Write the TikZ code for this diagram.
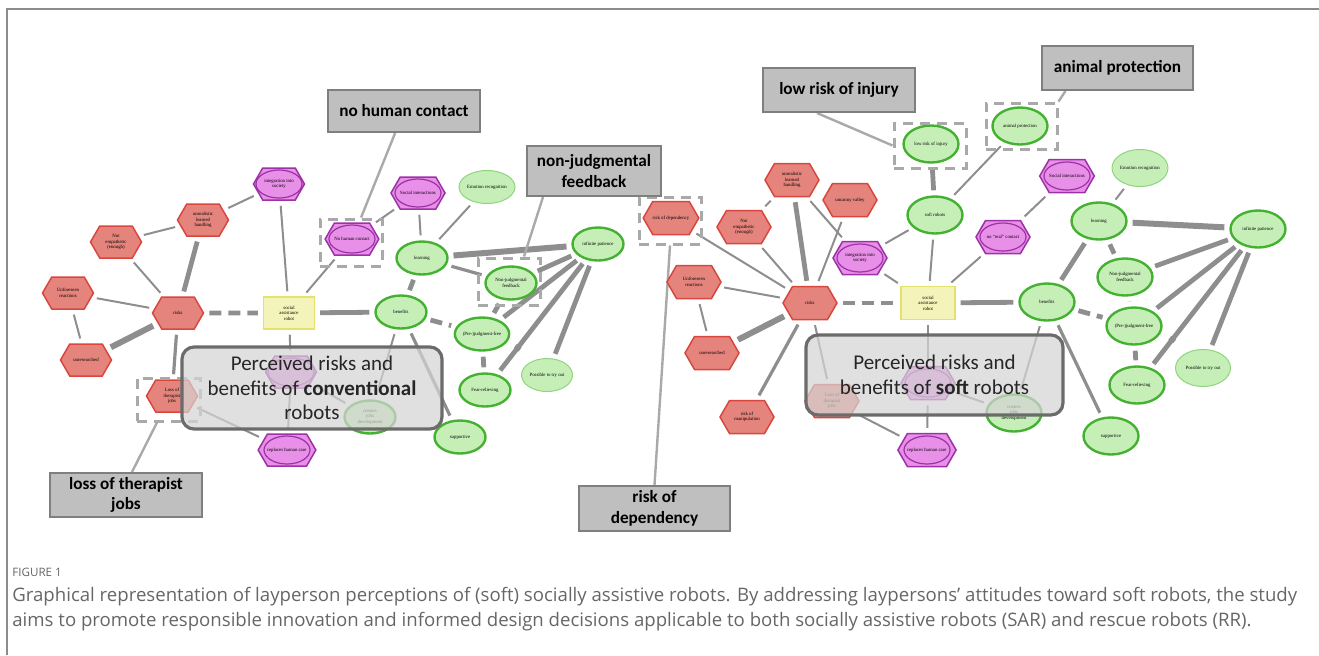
\documentclass[tikz,border=0pt]{standalone}
\usepackage{fontspec}
\setmainfont{Liberation Serif}
\newfontfamily\calloutfamily{Carlito}
\newfontfamily\captionfamily{Open Sans}
\usetikzlibrary{shapes.geometric,shapes.symbols,decorations.markings}
\definecolor{riskfill}{HTML}{E4847C}
\definecolor{riskline}{HTML}{D9463E}
\definecolor{purpfill}{HTML}{E88FE8}
\definecolor{purpline}{HTML}{9C32A6}
\definecolor{benfill}{HTML}{C6EFB8}
\definecolor{benline}{HTML}{45B132}
\definecolor{benlight}{HTML}{8FD47F}
\definecolor{sarfill}{HTML}{F4F3B9}
\definecolor{sarline}{HTML}{E3E36B}
\definecolor{linkgray}{HTML}{8E8E8E}
\definecolor{hlgray}{HTML}{A9A9A9}
\definecolor{notefill}{HTML}{BFBFBF}
\definecolor{noteline}{HTML}{7F7F7F}
\definecolor{boxfill}{HTML}{D4D4D4}
\definecolor{boxline}{HTML}{6B6B6B}
\definecolor{capgray}{HTML}{666666}
\definecolor{framegray}{HTML}{8C8C8C}
\newcommand{\nodefont}{\fontsize{2.4}{2.8}\selectfont}
\newcommand{\notefont}{\calloutfamily\bfseries\fontsize{8.6}{10.3}\selectfont}
\newcommand{\boxfont}{\calloutfamily\fontsize{10.5}{12.3}\selectfont}
\newcommand{\figlabelfont}{\captionfamily\fontsize{5.8}{7}\selectfont}
\newcommand{\captextfont}{\captionfamily\fontsize{9.3}{11}\selectfont}
\pgfdeclarelayer{background}
\pgfsetlayers{background,main}
\tikzset{
    nsize/.style={minimum width=25.5pt, minimum height=16pt},
    esize/.style={minimum width=25.5pt, minimum height=16.5pt},
    riskhex/.style={signal, signal to=east and west, signal pointer angle=120, nsize, inner sep=0pt,
        draw=riskline, fill=riskfill, line width=0.75pt, align=center, font=\nodefont},
    purphex/.style={riskhex, draw=purpline, fill=purpfill,
        path picture={\draw[purpline, line width=0.6pt] (path picture bounding box.center) ellipse [x radius=11.5pt, y radius=7pt];}},
    benell/.style={ellipse, esize, inner sep=0pt, draw=benline, fill=benfill, line width=1.2pt, align=center, font=\nodefont},
    benthin/.style={benell, draw=benlight, line width=0.5pt},
    sarbox/.style={rectangle, nsize, inner sep=0pt, draw=sarline, fill=sarfill, line width=0.7pt, align=center, font=\nodefont},
    link/.style={draw=linkgray, line width=1pt, shorten <=2.5pt, shorten >=2.5pt},
    linkm/.style={link, line width=1.6pt},
    linkt/.style={link, line width=2.4pt},
    linkx/.style={link, line width=3pt},
    linkd/.style={linkt, dash pattern=on 6pt off 3.5pt},
    blocked/.style={postaction={decorate}, decoration={markings, mark=at position 0.77 with {\draw[linkgray, line width=2.4pt] (0,-4pt) -- (0,4pt);}}},
    callout/.style={draw=noteline, fill=notefill, line width=1pt, font=\notefont, align=center, inner sep=0pt},
    hlbox/.style={draw=hlgray, line width=1.5pt, dash pattern=on 5pt off 3.5pt, inner sep=0pt},
    pointer/.style={draw=hlgray, line width=1.2pt},
    bigbox/.style={draw=boxline, fill=boxfill, fill opacity=0.72, text opacity=1, text=black!85, line width=1.6pt,
        rounded corners=6pt, align=center, font=\boxfont, inner sep=0pt}
}
\begin{document}
\begin{tikzpicture}[x=0.5pt, y=-0.5pt]
    \useasboundingbox (0,0) rectangle (1319,655);
    \draw[framegray, line width=1pt] (7,655) -- (7,9) -- (1319,9);

    \node[riskhex] (lrisks) at (178,313) {risks};
    \node[riskhex] (lnotemp) at (116,242) {Not\\empathetic\\(enough)};
    \node[riskhex] (lunreal) at (203,220) {unrealistic\\learned\\handling};
    \node[purphex] (lintegr) at (279,184) {integration into\\society};
    \node[riskhex] (lunfore) at (68,293) {Unforeseen\\reactions};
    \node[riskhex] (lunres) at (86,360) {unresearched};
    \node[riskhex] (lloss) at (172,396) {Loss of\\therapist\\jobs};
    \node[sarbox] (lsar) at (289,313) {social\\assistance\\robot};
    \node[purphex] (lnhc) at (352,239) {No human contact};
    \node[purphex] (lsocial) at (418,193) {Social interactions};
    \node[benthin] (lemorec) at (487,187) {Emotion recognition};
    \node[benell] (llearn) at (422,258) {learning};
    \node[benell] (lpatience) at (598,244) {infinite patience};
    \node[benell] (lnjf) at (511,283) {Non-judgmental\\feedback};
    \node[benell] (lbenef) at (401,312) {benefits};
    \node[benell] (lprejf) at (482,334) {(Pre-)judgment-free};
    \node[benell] (lfear) at (485,390) {Fear-relieving};
    \node[benthin] (ltryout) at (547,375) {Possible to try out};
    \node[benell] (lsupport) at (460,437) {supportive};
    \node[benell] (ljobs) at (370,417) {creates\\jobs\\development};
    \node[purphex] (lrepl) at (287,450) {replaces human care};
    \node[purphex] (lhidden) at (291,372) {};

    \begin{scope}[nsize/.style={minimum width=27pt, minimum height=16.5pt},
        esize/.style={minimum width=27.5pt, minimum height=18.5pt}]
    \node[riskhex] (rdep) at (671,218) {risk of dependency};
    \node[riskhex] (rnotemp) at (744,227) {Not\\empathetic\\(enough)};
    \node[riskhex] (runreal) at (792,180) {unrealistic\\learned\\handling};
    \node[riskhex] (runcanny) at (850,200) {uncanny valley};
    \node[purphex] (rintegr) at (860,258) {integration into\\society};
    \node[riskhex] (runfore) at (694,282) {Unforeseen\\reactions};
    \node[riskhex] (rrisks) at (810,303) {risks};
    \node[riskhex] (runres) at (712,353) {unresearched};
    \node[riskhex] (rmanip) at (747,417) {risk of\\manipulation};
    \node[riskhex] (rloss) at (832,401) {Loss of\\therapist\\jobs};
    \node[sarbox] (rsar) at (928,303) {social\\assistance\\robot};
    \node[benell] (rsoft) at (935,215) {soft robots};
    \node[benell] (rlowrisk) at (931,144) {low risk of injury};
    \node[benell] (ranimal) at (1020,126) {animal protection};
    \node[purphex] (rnoreal) at (1003,237) {no “real” contact};
    \node[purphex] (rsocial) at (1067,176) {Social interactions};
    \node[benthin] (remorec) at (1140,168) {Emotion recognition};
    \node[benell] (rlearn) at (1099,221) {learning};
    \node[benell] (rpatience) at (1258,229) {infinite patience};
    \node[benell] (rnjf) at (1125,277) {Non-judgmental\\feedback};
    \node[benell] (rbenef) at (1047,302) {benefits};
    \node[benell] (rprejf) at (1134,326) {(Pre-)judgment-free};
    \node[benell] (rfear) at (1137,385) {Fear-relieving};
    \node[benthin] (rtryout) at (1203,368) {Possible to try out};
    \node[benell] (rsupport) at (1111,436) {supportive};
    \node[benell] (rjobs) at (1014,413) {creates\\jobs\\development};
    \node[purphex] (rrepl) at (927,450) {replaces human care};
    \node[purphex] (rhidden) at (928,383) {};
    \end{scope}

    \begin{pgfonlayer}{background}
    \draw[link] (lrisks) -- (lnotemp);
    \draw[link] (lnotemp) -- (lunreal);
    \draw[linkt] (lrisks) -- (lunreal);
    \draw[link] (lunreal) -- (lintegr);
    \draw[link] (lrisks) -- (lunfore);
    \draw[link] (lunfore) -- (lunres);
    \draw[linkx] (lrisks) -- (lunres);
    \draw[linkm] (lrisks) -- (lloss);
    \draw[linkd] (lrisks) -- (lsar);
    \draw[link] (lsar) -- (lintegr);
    \draw[link] (lsar) -- (lnhc);
    \draw[linkt] (lsar) -- (lbenef);
    \draw[link] (lsar) -- (lhidden);
    \draw[link] (lhidden) -- (lrepl);
    \draw[link] (lhidden) -- (ljobs);
    \draw[link] (lloss) -- (lrepl);
    \draw[link] (lnhc) -- (lsocial);
    \draw[link] (lsocial) -- (llearn);
    \draw[link] (lemorec) -- (llearn);
    \draw[linkd] (llearn) -- (lbenef);
    \draw[linkx] (llearn) -- (lpatience);
    \draw[linkm] (llearn) -- (lnjf);
    \draw[linkt] (lnjf) -- (lpatience);
    \draw[linkd] (lnjf) -- (lprejf);
    \draw[linkt] (lprejf) -- (lpatience);
    \draw[linkt, blocked] (lpatience) -- (lfear);
    \draw[linkt] (lpatience) -- (ltryout);
    \draw[linkd] (lbenef) -- (lprejf);
    \draw[linkd] (lprejf) -- (lfear);
    \draw[linkm] (lbenef) -- (lsupport);
    \draw[link] (lbenef) -- (ljobs);

    \draw[link] (rdep) -- (rrisks);
    \draw[link] (rnotemp) -- (rrisks);
    \draw[link] (rnotemp) -- (runreal);
    \draw[linkt] (runreal) -- (rrisks);
    \draw[link] (runreal) -- (rintegr);
    \draw[link] (runcanny) -- (rrisks);
    \draw[link] (runfore) -- (rrisks);
    \draw[link] (runfore) -- (runres);
    \draw[linkx] (runres) -- (rrisks);
    \draw[linkm] (rmanip) -- (rrisks);
    \draw[link] (rrisks) -- (rloss);
    \draw[linkd] (rrisks) -- (rsar);
    \draw[link] (rintegr) -- (rsoft);
    \draw[link] (rintegr) -- (rsar);
    \draw[link] (rsoft) -- (rsar);
    \draw[linkt] (rsoft) -- (rlowrisk);
    \draw[link] (rsoft) -- (ranimal);
    \draw[link] (rnoreal) -- (rsar);
    \draw[link] (rnoreal) -- (rsocial);
    \draw[linkt] (rsar) -- (rbenef);
    \draw[link] (rsar) -- (rhidden);
    \draw[link] (rhidden) -- (rrepl);
    \draw[link] (rhidden) -- (rjobs);
    \draw[link] (rloss) -- (rrepl);
    \draw[linkt] (rbenef) -- (rlearn);
    \draw[link] (rlearn) -- (remorec);
    \draw[linkd] (rlearn) -- (rnjf);
    \draw[linkx] (rlearn) -- (rpatience);
    \draw[linkt] (rnjf) -- (rpatience);
    \draw[linkd] (rnjf) -- (rprejf);
    \draw[linkt] (rprejf) -- (rpatience);
    \draw[linkt, blocked] (rpatience) -- (rfear);
    \draw[linkt] (rpatience) -- (rtryout);
    \draw[linkd] (rbenef) -- (rprejf);
    \draw[linkd] (rprejf) -- (rfear);
    \draw[linkm] (rbenef) -- (rsupport);
    \draw[link] (rbenef) -- (rjobs);
    \end{pgfonlayer}

    \node[hlbox, minimum width=31pt, minimum height=23.5pt] (lnhcbox) at (351,242.5) {};
    \node[hlbox, minimum width=31pt, minimum height=23.5pt] (lnjfbox) at (509,281.5) {};
    \node[hlbox, minimum width=31.5pt, minimum height=21.5pt] (llossbox) at (168.5,399.5) {};
    \node[hlbox, minimum width=31pt, minimum height=23.5pt] (rdepbox) at (670,220.5) {};
    \node[hlbox, minimum width=36pt, minimum height=22.5pt] (rlowbox) at (930,145.5) {};
    \node[hlbox, minimum width=35.5pt, minimum height=23pt] (ranimalbox) at (1021.5,126) {};

    \node[bigbox, minimum width=130pt, minimum height=41pt] (convbox) at (312,388)
        {Perceived risks and\\benefits of \textbf{conventional}\\robots};
    \node[bigbox, minimum width=128.5pt, minimum height=40pt] (softbox) at (934.5,375)
        {Perceived risks and\\benefits of \textbf{soft} robots};

    \node[callout, minimum width=76pt, minimum height=21pt] (nhcnote) at (404,111) {no human contact};
    \node[callout, minimum width=67pt, minimum height=25pt] (njfnote) at (594,171) {non-judgmental\\feedback};
    \node[callout, minimum width=76pt, minimum height=22pt] (lownote) at (839,90) {low risk of injury};
    \node[callout, minimum width=75.5pt, minimum height=22pt] (animalnote) at (1117.5,68) {animal protection};
    \node[callout, minimum width=76pt, minimum height=22pt] (lossnote) at (126,495) {loss of therapist\\jobs};
    \node[callout, minimum width=75.5pt, minimum height=22.5pt] (depnote) at (654.5,508.5) {risk of\\dependency};

    \begin{pgfonlayer}{background}
    \draw[pointer] (nhcnote) -- (lnhcbox);
    \draw[pointer] ([xshift=-25.5pt]njfnote.south) -- ([xshift=7.5pt]lnjfbox.north);
    \draw[pointer] ([xshift=-11pt]lownote.south) -- (rlowbox.west);
    \draw[pointer] ([xshift=-26pt]animalnote.south) -- (ranimalbox.north east);
    \draw[pointer] ([xshift=-5.75pt]llossbox.south) -- ([xshift=3pt]lossnote.north);
    \draw[pointer] (rdepbox.south) -- (depnote.north);
    \end{pgfonlayer}

    \node[anchor=west, inner sep=0pt, font=\figlabelfont, text=capgray] (figlabel) at (12,572) {FIGURE 1};
    \node[anchor=west, inner sep=0pt, font=\captextfont, text=capgray] (capline1) at (12,597)
        {Graphical representation of layperson perceptions of (soft) socially assistive robots. By addressing laypersons’ attitudes toward soft robots, the study};
    \node[anchor=west, inner sep=0pt, font=\captextfont, text=capgray] (capline2) at (12,622)
        {aims to promote responsible innovation and informed design decisions applicable to both socially assistive robots (SAR) and rescue robots (RR).};
\end{tikzpicture}
\end{document}
